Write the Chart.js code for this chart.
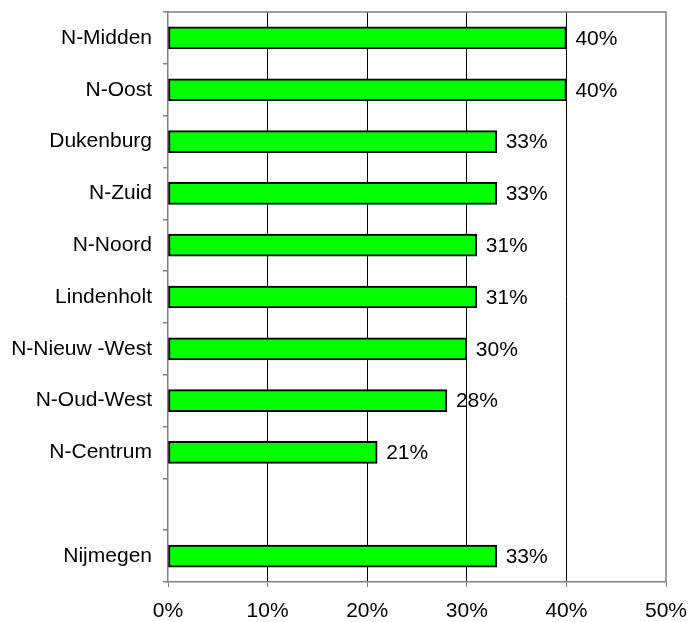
<!DOCTYPE html>
<html>
<head>
<meta charset="utf-8">
<script src="https://cdn.jsdelivr.net/npm/chart.js@4/dist/chart.umd.min.js"></script>
<style>
html,body{margin:0;padding:0;background:#fff;}
#wrap{width:689px;height:622px;}
</style>
</head>
<body>
<div id="wrap"><canvas id="c" width="689" height="622"></canvas></div>
<script>
const categories = ['N-Midden','N-Oost','Dukenburg','N-Zuid','N-Noord','Lindenholt','N-Nieuw -West','N-Oud-West','N-Centrum','','Nijmegen'];
const values = [40,40,33,33,31,31,30,28,21,null,33];
const xTicks = [0,10,20,30,40,50];

const FONT = {family:'"Liberation Sans", Arial, sans-serif', size:21};

const labelPlugin = {
  id:'vlabels',
  afterDatasetsDraw(chart){
    const ctx = chart.ctx;
    const meta = chart.getDatasetMeta(0);
    ctx.save();
    ctx.font = FONT.size + 'px ' + FONT.family;
    ctx.fillStyle = '#000';
    ctx.textAlign = 'left';
    ctx.textBaseline = 'middle';
    meta.data.forEach((el,i)=>{
      const v = values[i];
      if (v === null || v === undefined) return;
      ctx.fillText(v + '%', el.x + 9, el.y + 1);
    });
    ctx.restore();
  },
  afterDraw(chart){
    const a = chart.chartArea;
    const ctx = chart.ctx;
    ctx.save();
    ctx.strokeStyle = '#808080';
    ctx.lineWidth = 1.5;
    ctx.beginPath();
    ctx.moveTo(a.left, a.top);
    ctx.lineTo(a.right, a.top);
    ctx.lineTo(a.right, a.bottom);
    ctx.stroke();
    ctx.restore();
  }
};

new Chart(document.getElementById('c'), {
  type:'bar',
  data:{
    labels:categories,
    datasets:[{
      data:values,
      backgroundColor:'#00FF00',
      borderColor:'#000000',
      borderWidth:2,
      borderSkipped:false,
      barThickness:22,
      categoryPercentage:1
    }]
  },
  options:{
    indexAxis:'y',
    responsive:false,
    animation:false,
    layout:{padding:{left:0,right:23,top:12,bottom:0}},
    plugins:{legend:{display:false},tooltip:{enabled:false}},
    scales:{
      x:{
        min:0,max:50,
        afterBuildTicks(scale){ scale.ticks = xTicks.map(v=>({value:v})); },
        afterFit(scale){ scale.height = 40; scale.paddingLeft = 0; scale.paddingRight = 0; },
        ticks:{
          color:'#000',
          font:FONT,
          padding:12,
          maxRotation:0,
          callback:(v)=>v+'%'
        },
        grid:{
          color:(c)=> (c.index===0 || c.index===xTicks.length-1) ? 'rgba(0,0,0,0)' : '#000',
          lineWidth:1,
          tickLength:5,
          tickColor:'#808080',
          drawTicks:true
        },
        border:{color:'#808080',width:1.5}
      },
      y:{
        afterFit(scale){ scale.width = 168; scale.paddingTop = 0; scale.paddingBottom = 0; },
        ticks:{color:'#000',font:FONT,padding:11,autoSkip:false},
        grid:{
          drawOnChartArea:false,
          offset:true,
          tickLength:5,
          tickColor:'#808080',
          lineWidth:1.5
        },
        border:{color:'#808080',width:1.5}
      }
    }
  },
  plugins:[labelPlugin]
});
</script>
</body>
</html>
